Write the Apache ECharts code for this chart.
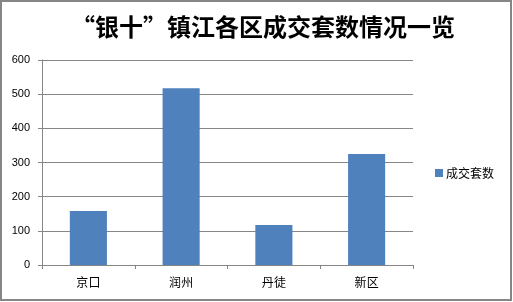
<!DOCTYPE html>
<html><head><meta charset="utf-8">
<script src="https://cdn.jsdelivr.net/npm/echarts@6/dist/echarts.min.js"></script>
<style>html,body{margin:0;padding:0;background:#fff}#c{width:513px;height:302px}</style>
</head><body><div id="c"></div>
<script>
var categories = ['京口', '润州', '丹徒', '新区'];
var values = [158, 517, 117, 325];
var yTicks = [0, 100, 200, 300, 400, 500, 600];
var seriesName = '成交套数';
var titleText = '“银十”镇江各区成交套数情况一览';

var chart = echarts.init(document.getElementById('c'));
chart.setOption({
  animation: false,
  title: {
    text: titleText, left: 66, top: 10,
    textStyle: {fontFamily: 'Noto Sans CJK SC', fontWeight: 'bold', fontSize: 24, color: '#000'}
  },
  legend: {
    data: [seriesName], left: 430, top: 162, icon: 'rect', itemWidth: 8, itemHeight: 8, itemGap: 4,
    textStyle: {fontFamily: 'Noto Sans CJK SC', fontSize: 12, color: '#000', padding: [0,0,0,-2]}
  },
  graphic: [{type: 'rect', shape: {x: 1, y: 1, width: 510, height: 299}, style: {fill: 'none', stroke: '#868686', lineWidth: 2}, silent: true}],
  grid: {left: 42, right: 100, top: 60, bottom: 37},
  xAxis: {
    type: 'category', data: categories,
    axisLine: {lineStyle: {color: '#868686'}},
    axisTick: {show: true, length: 4, lineStyle: {color: '#868686'}},
    axisLabel: {margin: 11, fontFamily: 'Noto Sans CJK SC', fontSize: 12, color: '#000'}
  },
  yAxis: {
    type: 'value', min: yTicks[0], max: yTicks[yTicks.length-1], interval: 100,
    axisLine: {show: true, lineStyle: {color: '#868686'}},
    axisTick: {show: true, length: 4, lineStyle: {color: '#868686'}},
    axisLabel: {margin: 12, fontFamily: 'Liberation Sans', fontSize: 11, color: '#000'},
    splitLine: {lineStyle: {color: '#868686'}}
  },
  series: [{
    name: seriesName, type: 'bar', data: values, barWidth: '40%',
    itemStyle: {color: '#4F81BD'}
  }]
});
</script></body></html>
